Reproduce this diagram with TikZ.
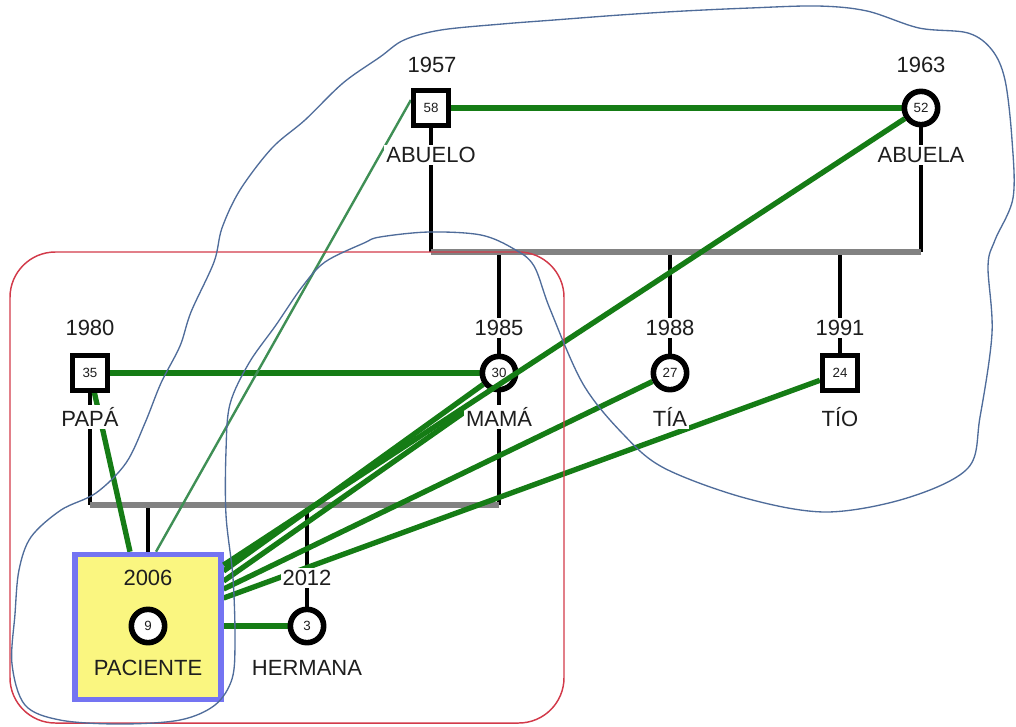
\documentclass[tikz,border=0pt]{standalone}
\usepackage{fontspec}
\setmainfont{Liberation Sans}
\usetikzlibrary{calc}
\pgfdeclarelayer{bg}
\pgfsetlayers{bg,main}
\definecolor{gline}{HTML}{157C15}
\definecolor{gthin}{HTML}{3F8F55}
\definecolor{outl}{HTML}{4F6C9A}
\definecolor{redr}{HTML}{D23A4A}
\definecolor{pyellow}{HTML}{FAF680}
\definecolor{pborder}{HTML}{7474F2}
\definecolor{barc}{HTML}{828282}
\definecolor{txt}{HTML}{1E1E1E}
\begin{document}
\begin{tikzpicture}[x=0.75pt,y=-0.75pt,
  male/.style={rectangle,draw=black,line width=4.2pt,fill=white,minimum size=26pt,inner sep=0pt,text=txt,font=\fontsize{10}{10}\selectfont},
  female/.style={circle,draw=black,line width=4.2pt,fill=white,minimum size=25pt,inner sep=0pt,text=txt,font=\fontsize{10}{10}\selectfont},
  lbl/.style={fill=white,inner sep=1.5pt,text=txt,font=\fontsize{16.5}{16.5}\selectfont},
  plbl/.style={inner sep=1pt,text=txt,font=\fontsize{16.5}{16.5}\selectfont},
  kin/.style={line width=3.2pt,black},
  sib/.style={line width=4.3pt,barc},
  rel/.style={line width=4pt,gline},
  relthin/.style={line width=1.8pt,gthin},
  hull/.style={outl,line width=1pt},
  frame/.style={redr,line width=1.1pt,rounded corners=34pt},
  patbox/.style={rectangle,draw=pborder,fill=pyellow,line width=3.9pt,minimum width=109.5pt,minimum height=109pt,inner sep=0pt}
]
\useasboundingbox (0,0) rectangle (1016,726);

% patient box
\node[patbox] (pac) at (148,627) {};

% nodes
\node[male] (abuelo) at (431,108) {58};
\node[female] (abuela) at (921,108) {52};
\node[male] (papa) at (90,373) {35};
\node[female] (mama) at (499,373) {30};
\node[female] (tia) at (670,373) {27};
\node[male] (tio) at (840,373) {24};
\node[female] (pat) at (148,626) {9};
\node[female] (her) at (307,626) {3};

% labels
\node[lbl] (y1957) at (432,65) {1957};
\node[lbl] (lab) at (431,155) {ABUELO};
\node[lbl] (y1963) at (921,65) {1963};
\node[lbl] (laba) at (921,155) {ABUELA};
\node[lbl] (y1980) at (90,328) {1980};
\node[lbl] (lpapa) at (90,417) {PAPÁ};
\node[lbl] (y1985) at (499,328) {1985};
\node[lbl] (lmama) at (499,417) {MAMÁ};
\node[lbl] (y1988) at (670,328) {1988};
\node[lbl] (ltia) at (670,417) {TÍA};
\node[lbl] (y1991) at (840,328) {1991};
\node[lbl] (ltio) at (840,417) {TÍO};
\node[plbl] (y2006) at (148,578) {2006};
\node[plbl] (lpac) at (148,668) {PACIENTE};
\node[lbl] (y2012) at (307,578) {2012};
\node[lbl] (lher) at (307,668) {HERMANA};

% junction coordinates
\coordinate (b1l) at (431,252);
\coordinate (b1r) at (921,252);
\coordinate (b1m) at (499,252);
\coordinate (b1t) at (670,252);
\coordinate (b1o) at (840,252);
\coordinate (b2l) at (90,505);
\coordinate (b2r) at (499,505);
\coordinate (b2p) at (148,505);
\coordinate (b2h) at (307,505);
\coordinate (mamaend) at (466,411);

\begin{pgfonlayer}{bg}
  % family lines
  \draw[kin] (abuelo.center) -- (b1l);
  \draw[kin] (abuela.center) -- (b1r);
  \draw[kin] (b1m) -- (mama.center);
  \draw[kin] (b1t) -- (tia.center);
  \draw[kin] (b1o) -- (tio.center);
  \draw[sib] (b1l) -- (b1r);
  \draw[kin] (papa.center) -- (b2l);
  \draw[kin] (mama.center) -- (b2r);
  \draw[kin] (b2p) -- (pac.north);
  \draw[kin] (b2h) -- (her.center);
  \draw[sib] (b2l) -- (b2r);
  % relation lines
  \draw[rel] (abuelo) -- (abuela);
  \draw[rel] (papa) -- (mama);
  \draw[rel] (pac.east |- her) -- (her);
  \draw[rel] ($(pac.north)+(-18,0)$) -- (papa.center);
  \draw[relthin] ($(pac.north)+(8,0)$) -- ($(abuelo.west)+(0,-8)$);
  \draw[rel] ($(pac.east)+(0,-56)$) -- (mama);
  \draw[rel] ($(pac.east)+(0,-46)$) -- (mamaend);
  \draw[rel] ($(pac.east)+(0,-38)$) -- (tia);
  \draw[rel] ($(pac.east)+(0,-29)$) -- (tio);
\end{pgfonlayer}

\draw[rel] ($(pac.east)+(0,-62)$) -- (abuela);

% red frame
\draw[frame] (10,252) rectangle (564,723);

% hand-drawn outline
\draw[hull] plot[smooth cycle,tension=0.55] coordinates {
 (380,57) (404,40) (441,30) (502,24) (554,20) (620,15) (684,11) (750,8) (818,6) (867,11)
 (919,28) (968,33) (992,50) (1005,80) (1012,140) (1013,198) (995,240) (988,266) (992,333)
 (980,417) (968,468) (907,498) (826,512) (745,498) (664,468) (623,434) (583,384) (550,309)
 (534,266) (514,249) (481,235) (429,232) (380,237) (364,243) (325,262) (302,287) (276,325)
 (249,363) (230,404) (226,451) (226,515) (233,578) (235,641) (232,679) (215,705) (180,720)
 (120,724) (60,720) (25,705) (12,664) (15,614) (19,570) (31,537) (61,510) (96,493)
 (126,463) (145,423) (161,383) (180,346) (191,312) (214,262) (222,228) (240,190)
 (272,148) (305,120) (343,83)};
\end{tikzpicture}
\end{document}
